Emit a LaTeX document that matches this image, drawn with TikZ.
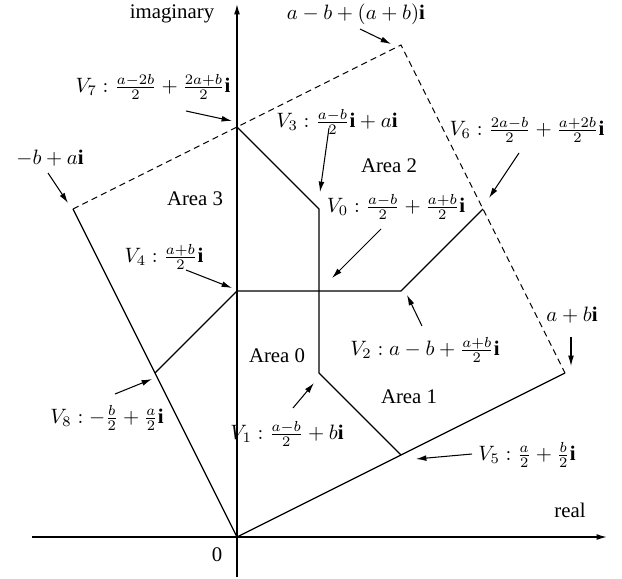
\documentclass[tikz,border=0pt]{standalone}
\usepackage{fontspec}
\setmainfont{Liberation Serif}
\usetikzlibrary{arrows.meta}
\begin{document}
\begin{tikzpicture}[x=0.169mm,y=-0.169mm,
  edge/.style={line width=0.6pt},
  dashedge/.style={line width=0.5pt,dashed,dash pattern=on 3pt off 2pt},
  ptr/.style={line width=0.5pt,-{Latex[length=5pt,width=2.8pt]}},
  axis/.style={line width=0.6pt,-{Latex[length=5pt,width=2.8pt]}},
  lbl/.style={inner sep=0pt,font=\fontsize{10}{12}\selectfont}]
\useasboundingbox (0,0) rectangle (622,579);
% points
\coordinate (O) at (237,537);
\coordinate (A) at (565,373);
\coordinate (C) at (401,45);
\coordinate (B) at (73,209);
\coordinate (V7) at (237,127);
\coordinate (V3) at (319,209);
\coordinate (V1) at (319,373);
\coordinate (V5) at (401,455);
\coordinate (V4) at (237,291);
\coordinate (V2) at (401,291);
\coordinate (V6) at (483,209);
\coordinate (V8) at (155,373);
\coordinate (V0) at (319,291);
\coordinate (xs) at (32,537);
\coordinate (xe) at (607,537);
\coordinate (ys) at (237,577);
\coordinate (ye) at (237,4);
% axes
\draw[axis] (xs) -- (xe);
\draw[axis] (ys) -- (ye);
% square
\draw[edge] (B) -- (O) -- (A);
\draw[dashedge] (B) -- (C) -- (A);
% internal boundaries
\draw[edge] (V7) -- (V3) -- (V1) -- (V5);
\draw[edge] (V8) -- (V4) -- (V2) -- (V6);
% labels
\node[lbl] (limag) at (172,14) {imaginary};
\node[lbl] (lreal) at (570,510) {real};
\node[lbl] (lzero) at (217,555) {0};
\node[lbl] (lC) at (356,14) {$a-b+(a+b)\mathbf{i}$};
\node[lbl] (lB) at (50,158) {$-b+a\mathbf{i}$};
\node[lbl] (lA) at (572,315) {$a+b\mathbf{i}$};
\node[lbl] (lV7) at (153,87) {$V_7:\frac{a-2b}{2}+\frac{2a+b}{2}\mathbf{i}$};
\node[lbl] (lV3) at (337,122) {$V_3:\frac{a-b}{2}\mathbf{i}+a\mathbf{i}$};
\node[lbl] (lV6) at (527,130) {$V_6:\frac{2a-b}{2}+\frac{a+2b}{2}\mathbf{i}$};
\node[lbl] (lV0) at (396,207) {$V_0:\frac{a-b}{2}+\frac{a+b}{2}\mathbf{i}$};
\node[lbl] (lV4) at (164,257) {$V_4:\frac{a+b}{2}\mathbf{i}$};
\node[lbl] (lV2) at (425,350) {$V_2:a-b+\frac{a+b}{2}\mathbf{i}$};
\node[lbl] (lV8) at (107,418) {$V_8:-\frac{b}{2}+\frac{a}{2}\mathbf{i}$};
\node[lbl] (lV1) at (287,434) {$V_1:\frac{a-b}{2}+b\mathbf{i}$};
\node[lbl] (lV5) at (527,455) {$V_5:\frac{a}{2}+\frac{b}{2}\mathbf{i}$};
\node[lbl] (ar3) at (195,199) {Area 3};
\node[lbl] (ar2) at (389,166) {Area 2};
\node[lbl] (ar0) at (277,356) {Area 0};
\node[lbl] (ar1) at (409,397) {Area 1};
% pointer arrows
\coordinate (pC1) at (360,29);  \coordinate (pC2) at (391,44);
\coordinate (pB1) at (48,173);  \coordinate (pB2) at (68,203);
\coordinate (pA1) at (571,337); \coordinate (pA2) at (571,366);
\coordinate (p71) at (186,111); \coordinate (p72) at (232,121);
\coordinate (p31) at (329,128); \coordinate (p32) at (320,192);
\coordinate (p61) at (519,153); \coordinate (p62) at (489,198);
\coordinate (p01) at (381,229); \coordinate (p02) at (332,278);
\coordinate (p41) at (186,270); \coordinate (p42) at (232,288);
\coordinate (p21) at (422,326); \coordinate (p22) at (407,295);
\coordinate (p81) at (115,394); \coordinate (p82) at (152,379);
\coordinate (p11) at (293,408); \coordinate (p12) at (314,383);
\coordinate (p51) at (472,454); \coordinate (p52) at (416,459);
\draw[ptr] (pC1) -- (pC2);
\draw[ptr] (pB1) -- (pB2);
\draw[ptr] (pA1) -- (pA2);
\draw[ptr] (p71) -- (p72);
\draw[ptr] (p31) -- (p32);
\draw[ptr] (p61) -- (p62);
\draw[ptr] (p01) -- (p02);
\draw[ptr] (p41) -- (p42);
\draw[ptr] (p21) -- (p22);
\draw[ptr] (p81) -- (p82);
\draw[ptr] (p11) -- (p12);
\draw[ptr] (p51) -- (p52);
\end{tikzpicture}
\end{document}
